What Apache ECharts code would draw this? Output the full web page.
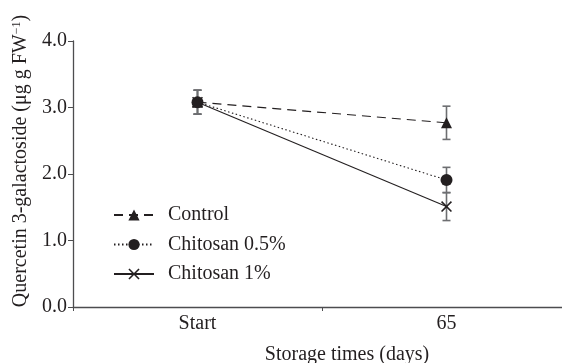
<!DOCTYPE html>
<html><head><meta charset="utf-8">
<script src="https://cdn.jsdelivr.net/npm/echarts@6/dist/echarts.min.js"></script>
<style>html,body{margin:0;padding:0;background:#fff}#c{width:562px;height:363px}</style>
</head><body><div id="c"></div>
<script>
const categories = ['Start', '65'];
const seriesNames = ['Control', 'Chitosan 0.5%', 'Chitosan 1%'];
const controlValues = [3.08, 2.77];
const chitosan05Values = [3.08, 1.91];
const chitosan1Values = [3.08, 1.51];
const controlErr = [0.18, 0.25];
const chitosan05Err = [0.18, 0.19];
const chitosan1Err = [0.18, 0.21];
const yTicks = [0, 1, 2, 3, 4];

const FONT = 'Liberation Serif';
const FS = 20;
const INK = '#231f20';
const values = [controlValues, chitosan05Values, chitosan1Values];
const errs = [controlErr, chitosan05Err, chitosan1Err];
const symbols = ['triangle', 'circle', 'path://M0,1L1,0L5,4L9,0L10,1L6,5L10,9L9,10L5,6L1,10L0,9L4,5Z'];
const symbolSizes = [11, 12, 11];
const lineTypes = [[9, 6], [1.5, 2.5], 'solid'];

const chart = echarts.init(document.getElementById('c'));
const series = [];
values.forEach((vals, i) => {
  series.push({
    type: 'custom',
    silent: true,
    z: 1,
    data: vals.map((v, j) => [j, v - errs[i][j], v + errs[i][j]]),
    renderItem: (params, api) => {
      const x = api.value(0);
      const lo = api.coord([x, api.value(1)]);
      const hi = api.coord([x, api.value(2)]);
      const w = 4;
      const st = { stroke: '#6d6e71', lineWidth: 1.6 };
      return { type: 'group', children: [
        { type: 'line', shape: { x1: lo[0], y1: lo[1], x2: hi[0], y2: hi[1] }, style: st },
        { type: 'line', shape: { x1: lo[0] - w, y1: lo[1], x2: lo[0] + w, y2: lo[1] }, style: st },
        { type: 'line', shape: { x1: hi[0] - w, y1: hi[1], x2: hi[0] + w, y2: hi[1] }, style: st }
      ]};
    }
  });
});
values.forEach((vals, i) => {
  series.push({
    name: seriesNames[i],
    type: 'line',
    z: 3,
    data: vals,
    symbol: symbols[i],
    symbolSize: symbolSizes[i],
    itemStyle: { color: INK },
    lineStyle: { color: INK, width: 1.1, type: lineTypes[i] }
  });
});

chart.setOption({
  animation: false,
  textStyle: { fontFamily: FONT },
  grid: { left: 73, top: 41, bottom: 56, width: 498, outerBoundsMode: 'none', containLabel: false },
  legend: {
    orient: 'vertical', left: 108, top: 200,
    itemWidth: 40, itemHeight: 14, itemGap: 9.5,
    data: seriesNames,
    textStyle: { fontFamily: FONT, fontSize: FS, color: INK, padding: [0, 0, 0, 9] }
  },
  xAxis: {
    type: 'category', data: categories, boundaryGap: true,
    axisLine: { lineStyle: { color: '#4d4d4f', width: 1.3 } },
    axisTick: { show: true, length: 4, lineStyle: { color: '#4d4d4f' } },
    axisLabel: { fontFamily: FONT, fontSize: FS, color: INK, margin: 7 },
    name: 'Storage times (days)', nameLocation: 'middle', nameGap: 38,
    nameTextStyle: { fontFamily: FONT, fontSize: FS, color: INK, padding: [0, 0, 0, 50] }
  },
  yAxis: {
    type: 'value', min: yTicks[0], max: yTicks[yTicks.length - 1], interval: 1,
    axisLine: { show: true, lineStyle: { color: '#4d4d4f', width: 1.3 } },
    axisTick: { show: true, length: 5, lineStyle: { color: '#4d4d4f' } },
    splitLine: { show: false },
    axisLabel: { fontFamily: FONT, fontSize: FS, color: INK, margin: 6, formatter: v => v.toFixed(1) },
    name: 'Quercetin 3-galactoside (μg g FW{sup|−1})', nameLocation: 'middle', nameGap: 40,
    nameTextStyle: { fontFamily: FONT, fontSize: FS, color: INK, padding: [0, 0, 0, 26],
      rich: { sup: { fontFamily: FONT, fontSize: 12, color: INK, verticalAlign: 'top', padding: [0, 0, 8, 0] } } }
  },
  series: series
});
</script></body></html>
